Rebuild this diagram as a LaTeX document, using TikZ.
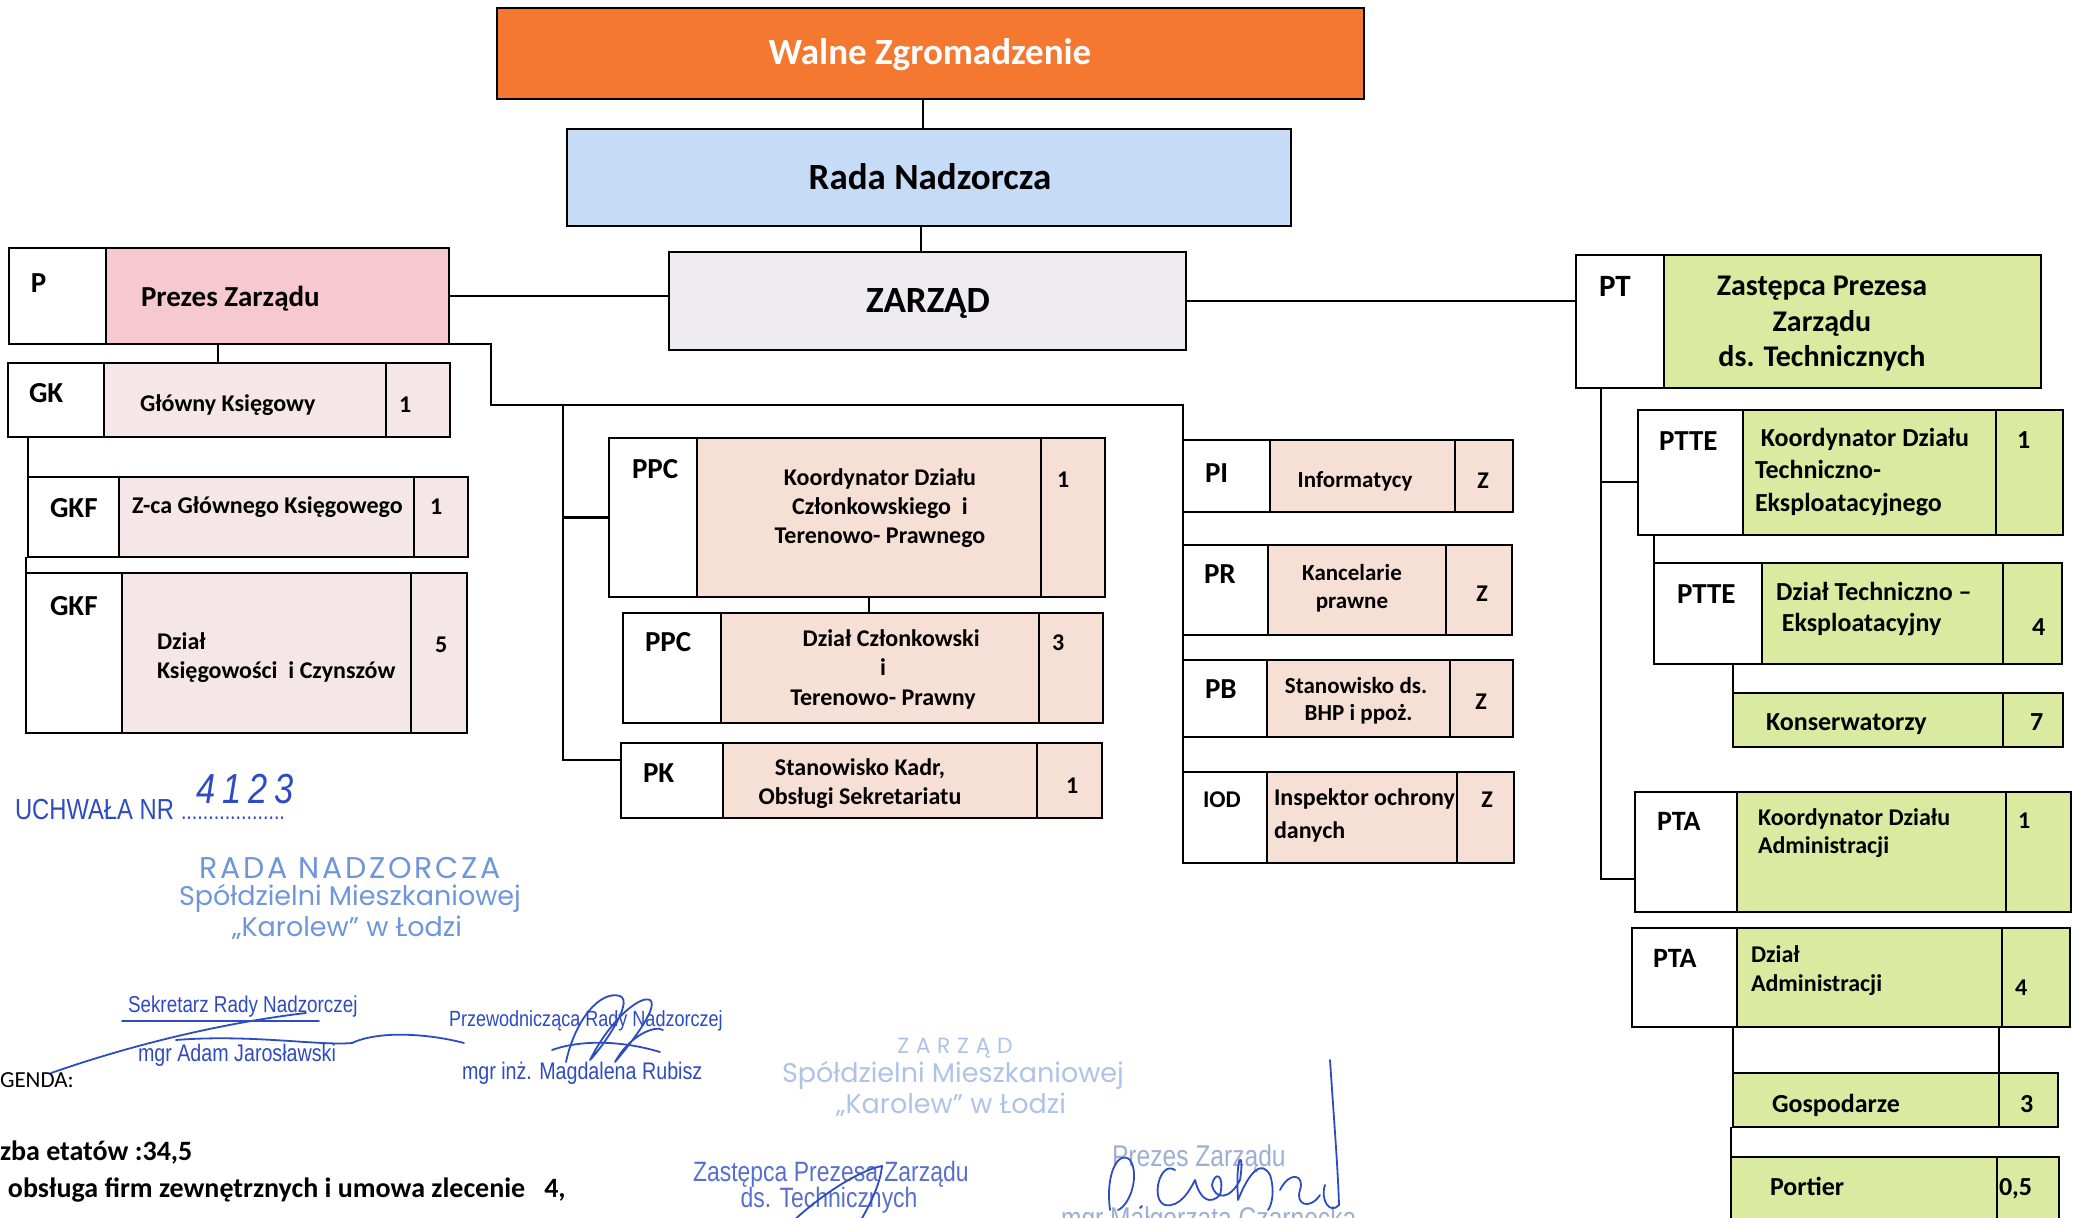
\documentclass[tikz,border=0pt]{standalone}
\usepackage{fontspec}
\setmainfont{Carlito}
\newfontfamily\narrowf[FakeStretch=0.82]{Liberation Sans}
\newfontfamily\stampf{Poppins}
\usetikzlibrary{fit,calc}
\definecolor{cOrange}{RGB}{245,120,48}
\definecolor{cBlue}{RGB}{198,220,246}
\definecolor{cGray}{RGB}{238,236,241}
\definecolor{cPink}{RGB}{246,200,207}
\definecolor{cRose}{RGB}{244,230,233}
\definecolor{cPeach}{RGB}{246,223,212}
\definecolor{cGreen}{RGB}{218,234,160}
\definecolor{cInk}{RGB}{45,75,195}
\definecolor{cStamp}{RGB}{110,150,220}
\definecolor{cFaint}{RGB}{175,195,232}
\newcommand\mkcell[6]{\node[cell,fill=#6,fit={(#2,#3) (#4,#5)}] (#1) {};}
\begin{document}
\begin{tikzpicture}[x=0.5pt,y=-0.5pt,
  every node/.style={inner sep=0pt,outer sep=0pt},
  cell/.style={draw=black,line width=1.45pt,inner sep=0pt,outer sep=0pt},
  conn/.style={draw=black,line width=1.15pt},
  dn/.style={yshift=-2pt},
  big/.style={anchor=mid,yshift=-2.5pt,font=\fontsize{18.5}{22}\selectfont\bfseries},
  code/.style={anchor=mid west,dn,font=\fontsize{14.5}{17}\selectfont\bfseries},
  desc/.style={font=\fontsize{12}{14.5}\selectfont\bfseries},
  descS/.style={desc,anchor=mid west,dn},
  descL/.style={desc,anchor=west,align=left},
  descC/.style={desc,anchor=center,align=center},
  num/.style={anchor=mid west,dn,font=\fontsize{12}{14}\selectfont\bfseries},
  gdesc/.style={anchor=mid west,dn,font=\fontsize{13}{16}\selectfont\bfseries},
  ink/.style={text=cInk,font=\narrowf\fontsize{12}{14}\selectfont,anchor=base west},
  sig/.style={draw=cInk,line width=0.9pt,line cap=round,line join=round},
  stampt/.style={text=cStamp,font=\stampf\fontsize{13.5}{16}\selectfont,anchor=center},
  faint/.style={text=cFaint,font=\stampf\fontsize{13.5}{16}\selectfont,anchor=center},
  legend/.style={anchor=base west,font=\fontsize{14}{16}\selectfont\bfseries}]
\useasboundingbox (0,0) rectangle (2073,1218);
\clip (0,0) rectangle (2073,1218);
\fill[white] (0,0) rectangle (2073,1218);

% ---------- top
\mkcell{W}{497}{8}{1364}{99}{cOrange}
\mkcell{R}{567}{129}{1291}{226}{cBlue}
\mkcell{Z}{669}{252}{1186}{350}{cGray}
\node[big,text=white] (tW) at (930,55) {Walne Zgromadzenie};
\node[big] (tR) at (930,180) {Rada Nadzorcza};
\node[big] (tZ) at (928,303) {ZARZĄD};

% ---------- P
\mkcell{Pc}{9}{248}{106}{344}{white}
\mkcell{Pd}{106}{248}{449}{344}{cPink}
\node[code] (tPc) at (31,284) {P};
\node[code] (tPd) at (141,298) {Prezes Zarządu};

% ---------- PT
\mkcell{PTc}{1576}{255}{1664}{388}{white}
\mkcell{PTd}{1664}{255}{2041}{388}{cGreen}
\node[code,font=\fontsize{15.5}{17}\selectfont\bfseries] (tPTc) at (1599,288) {PT};
\node[anchor=center,align=center,font=\fontsize{15}{17.75}\selectfont\bfseries] (tPTd) at (1822,324) {Zastępca Prezesa\\Zarządu\\ds. Technicznych};

% ---------- GK
\mkcell{GKc}{8}{363}{104}{437}{white}
\mkcell{GKd}{104}{363}{386}{437}{cRose}
\mkcell{GKn}{386}{363}{450}{437}{cRose}
\node[code] (tGKc) at (29,394) {GK};
\node[descS] (tGKd) at (140,403) {Główny Księgowy};
\node[num] (tGKn) at (399,404) {1};

\mkcell{GKFac}{28}{477}{119}{557}{white}
\mkcell{GKFad}{119}{477}{414}{557}{cRose}
\mkcell{GKFan}{414}{477}{468}{557}{cRose}
\node[code] (tGKFac) at (50,509) {GKF};
\node[descS] (tGKFad) at (132,505) {Z-ca Głównego Księgowego};
\node[num] (tGKFan) at (430,506) {1};

\mkcell{GKFbc}{26}{573}{122}{733}{white}
\mkcell{GKFbd}{122}{573}{411}{733}{cRose}
\mkcell{GKFbn}{411}{573}{467}{733}{cRose}
\node[code] (tGKFbc) at (50,607) {GKF};
\node[descL] (tGKFbd) at (157,658) {Dział\\Księgowości\ \ i Czynszów};
\node[num] (tGKFbn) at (435,644) {5};

% ---------- middle
\mkcell{PPCac}{609}{438}{697}{597}{white}
\mkcell{PPCad}{697}{438}{1041}{597}{cPeach}
\mkcell{PPCan}{1041}{438}{1105}{597}{cPeach}
\node[code] (tPPCac) at (632,470) {PPC};
\node[descC] (tPPCad) at (880,508) {Koordynator Działu\\Członkowskiego\ \ i\\Terenowo- Prawnego};
\node[num] (tPPCan) at (1057,479) {1};

\mkcell{PPCbc}{623}{613}{721}{723}{white}
\mkcell{PPCbd}{721}{613}{1039}{723}{cPeach}
\mkcell{PPCbn}{1039}{613}{1103}{723}{cPeach}
\node[code] (tPPCbc) at (645,643) {PPC};
\node[descC,font=\fontsize{12}{14.75}\selectfont\bfseries] (tPPCbd) at (883,669) {\ \ \ Dział Członkowski\\i\\Terenowo- Prawny};
\node[num] (tPPCbn) at (1052,642) {3};

\mkcell{PKc}{621}{743}{723}{818}{white}
\mkcell{PKd}{723}{743}{1037}{818}{cPeach}
\mkcell{PKn}{1037}{743}{1102}{818}{cPeach}
\node[code] (tPKc) at (643,774) {PK};
\node[descC] (tPKd) at (860,784) {Stanowisko Kadr,\\Obsługi Sekretariatu};
\node[num] (tPKn) at (1066,785) {1};

% ---------- PI group
\mkcell{PIc}{1183}{440}{1270}{512}{white}
\mkcell{PId}{1270}{440}{1455}{512}{cPeach}
\mkcell{PIn}{1455}{440}{1513}{512}{cPeach}
\node[code] (tPIc) at (1205,474) {PI};
\node[desc,anchor=mid,dn,font=\fontsize{11.5}{14}\selectfont\bfseries] (tPId) at (1355,479) {Informatycy};
\node[num,anchor=mid] (tPIn) at (1483,480) {Z};

\mkcell{PRc}{1183}{545}{1268}{635}{white}
\mkcell{PRd}{1268}{545}{1446}{635}{cPeach}
\mkcell{PRn}{1446}{545}{1512}{635}{cPeach}
\node[code] (tPRc) at (1204,575) {PR};
\node[descC,font=\fontsize{11.5}{14}\selectfont\bfseries] (tPRd) at (1352,588) {Kancelarie\\prawne};
\node[num,anchor=mid] (tPRn) at (1482,593) {Z};

\mkcell{PBc}{1183}{660}{1267}{737}{white}
\mkcell{PBd}{1267}{660}{1450}{737}{cPeach}
\mkcell{PBn}{1450}{660}{1513}{737}{cPeach}
\node[code] (tPBc) at (1205,690) {PB};
\node[descC,font=\fontsize{11.5}{13.5}\selectfont\bfseries] (tPBd) at (1356,701) {Stanowisko ds.\\\ BHP i ppoż.};
\node[num,anchor=mid] (tPBn) at (1481,701) {Z};

\mkcell{IODc}{1183}{772}{1267}{863}{white}
\mkcell{IODd}{1267}{772}{1457}{863}{cPeach}
\mkcell{IODn}{1457}{772}{1514}{863}{cPeach}
\node[code,font=\fontsize{12}{14}\selectfont\bfseries] (tIODc) at (1203,799) {IOD};
\node[descL,font=\fontsize{12}{16.5}\selectfont\bfseries] (tIODd) at (1274,815) {Inspektor ochrony\\danych};
\node[num,anchor=mid] (tIODn) at (1487,799) {Z};

% ---------- right (green)
\mkcell{PTTEac}{1638}{410}{1743}{535}{white}
\mkcell{PTTEad}{1743}{410}{1996}{535}{cGreen}
\mkcell{PTTEan}{1996}{410}{2063}{535}{cGreen}
\node[code] (tPTTEac) at (1659,442) {PTTE};
\node[descL,font=\fontsize{13}{16.25}\selectfont\bfseries] (tPTTEad) at (1755,472) {\ Koordynator Działu\\Techniczno-\\Eksploatacyjnego};
\node[num,font=\fontsize{13}{15}\selectfont\bfseries] (tPTTEan) at (2017,440) {1};

\mkcell{PTTEbc}{1654}{563}{1762}{664}{white}
\mkcell{PTTEbd}{1762}{563}{2003}{664}{cGreen}
\mkcell{PTTEbn}{2003}{563}{2062}{664}{cGreen}
\node[code] (tPTTEbc) at (1677,595) {PTTE};
\node[descL,font=\fontsize{13}{15.5}\selectfont\bfseries] (tPTTEbd) at (1776,609) {Dział Techniczno –\\\ Eksploatacyjny};
\node[num,font=\fontsize{13}{15}\selectfont\bfseries] (tPTTEbn) at (2032,627) {4};

\mkcell{Konsd}{1733}{693}{2003}{747}{cGreen}
\mkcell{Konsn}{2003}{693}{2063}{747}{cGreen}
\node[gdesc] (tKonsd) at (1766,722) {Konserwatorzy};
\node[num,font=\fontsize{13}{15}\selectfont\bfseries] (tKonsn) at (2030,722) {7};

\mkcell{PTAac}{1635}{792}{1737}{912}{white}
\mkcell{PTAad}{1737}{792}{2006}{912}{cGreen}
\mkcell{PTAan}{2006}{792}{2071}{912}{cGreen}
\node[code,font=\fontsize{14}{16}\selectfont\bfseries] (tPTAac) at (1657,822) {PTA};
\node[descL,font=\fontsize{12}{14}\selectfont\bfseries] (tPTAad) at (1758,833) {Koordynator Działu\\Administracji};
\node[num] (tPTAan) at (2018,820) {1};

\mkcell{PTAbc}{1632}{928}{1737}{1027}{white}
\mkcell{PTAbd}{1737}{928}{2002}{1027}{cGreen}
\mkcell{PTAbn}{2002}{928}{2070}{1027}{cGreen}
\node[code,font=\fontsize{14}{16}\selectfont\bfseries] (tPTAbc) at (1653,959) {PTA};
\node[descL,font=\fontsize{12}{14.5}\selectfont\bfseries] (tPTAbd) at (1751,971) {Dział\\Administracji};
\node[num] (tPTAbn) at (2015,987) {4};

\mkcell{Gospd}{1733}{1073}{1999}{1127}{cGreen}
\mkcell{Gospn}{1999}{1073}{2058}{1127}{cGreen}
\node[gdesc] (tGospd) at (1772,1104) {Gospodarze};
\node[num,font=\fontsize{13}{15}\selectfont\bfseries] (tGospn) at (2020,1104) {3};

\mkcell{Portd}{1731}{1157}{1997}{1240}{cGreen}
\mkcell{Portn}{1997}{1157}{2059}{1240}{cGreen}
\node[gdesc] (tPortd) at (1770,1187) {Portier};
\node[num,font=\fontsize{13}{15}\selectfont\bfseries] (tPortn) at (1999,1187) {0,5};

% ---------- connectors
\draw[conn] (W.south -| 923,0) -- (R.north -| 923,0);
\draw[conn] (R.south -| 921,0) -- (Z.north -| 921,0);
\draw[conn] (Pd.east) -- (Pd.east -| Z.west);
\draw[conn] (Z.east) -- (Z.east -| PTc.west);
\draw[conn] (Pd.south -| 218,0) -- (GKd.north -| 218,0);
\coordinate (jA) at (491,405);
\coordinate (jB) at (1183,405);
\coordinate (jC) at (563,405);
\draw[conn] (Pd.south east) -| (jA) -- (jB) -- (IODc.south west);
\draw[conn] (jC) |- (PKc.west |- 0,760);
\draw[conn] (PPCac.west) -- (PPCac.west -| jC);
\draw[conn] (PPCad.south) -- (PPCad.south |- PPCbd.north);
\draw[conn] (GKFac.north west) -- (GKFac.north west |- GKc.south);
\draw[conn] (GKFbc.north west) -- (GKFbc.north west |- GKFac.south);
\coordinate (rA) at ($(PTc.south west)+(25,0)$);
\coordinate (rB) at ($(PTAac.south west)+(0,-33)$);
\draw[conn] (rA) |- (rB);
\draw[conn] (rA |- 0,482) -- (PTTEac.west |- 0,482);
\draw[conn] (PTTEbc.north west) -- (PTTEbc.north west |- PTTEac.south);
\draw[conn] (Konsd.north west) -- (Konsd.north west |- PTTEbc.south);
\draw[conn] (Gospd.north west) -- (Gospd.north west |- PTAbc.south);
\draw[conn] (Gospn.north west) -- (Gospn.north west |- PTAbc.south);
\draw[conn] (Portd.north west) -- (Portd.north west |- Gospd.south);

% ---------- resolution stamp
\node[ink,font=\narrowf\fontsize{14.5}{16}\selectfont] (uch) at (15,820) {UCHWAŁA NR};
\node[ink,font=\narrowf\fontsize{12}{14}\selectfont,text height=2pt] (dots) at (181,820) {...................};
\node[ink,font=\narrowf\itshape\fontsize{21}{22}\selectfont] (nr) at (196,804) {4\,1\,2\,3};
\node[stampt,font=\stampf\fontsize{15}{17}\selectfont\addfontfeature{LetterSpace=9}] (rn1) at (350,868) {RADA NADZORCZA};
\node[stampt] (rn2) at (350,898) {Spółdzielni Mieszkaniowej};
\node[stampt] (rn3) at (347,928) {„Karolew” w Łodzi};
\node[ink,font=\narrowf\fontsize{11.5}{13}\selectfont] (sek) at (128,1012) {Sekretarz Rady Nadzorczej};
\node[ink] (sekn) at (138,1061) {mgr Adam Jarosławski};
\node[ink,font=\narrowf\fontsize{11}{13}\selectfont] (prz) at (449,1026) {Przewodnicząca Rady Nadzorczej};
\node[ink] (przn) at (462,1079) {mgr inż. Magdalena Rubisz};
% signatures
\draw[sig] (sek.south west) ++(-6,4) -- ++(197,0);
\draw[sig] (51,1073) .. controls (140,1042) and (230,1022) .. (306,1013);
\draw[sig] (176,1040) .. controls (250,1034) and (320,1046) .. (352,1043) .. controls (380,1030) and (430,1034) .. (464,1043);
\draw[sig] (566,1062) .. controls (575,1020) and (600,990) .. (620,996) .. controls (635,1002) and (600,1050) .. (590,1060)
  .. controls (610,1020) and (640,995) .. (650,1000) .. controls (660,1008) and (625,1050) .. (615,1062)
  .. controls (630,1035) and (655,1025) .. (663,1030);
\draw[sig] (552,1050) .. controls (580,1040) and (620,1040) .. (660,1052);

% ---------- board stamp
\node[faint,font=\stampf\fontsize{11}{13}\selectfont\addfontfeature{LetterSpace=30}] (zs1) at (955,1048) {ZARZĄD};
\node[faint] (zs2) at (953,1075) {Spółdzielni Mieszkaniowej};
\node[faint] (zs3) at (951,1105) {„Karolew” w Łodzi};
\node[ink,text=cInk!80,font=\narrowf\fontsize{14}{16}\selectfont] (zp1) at (693,1181) {Zastępca Prezesa Zarządu};
\node[ink,text=cInk!80,font=\narrowf\fontsize{14}{16}\selectfont,anchor=base] (zp2) at (829,1207) {ds. Technicznych};
\draw[sig] (789,1225) .. controls (820,1195) and (860,1170) .. (882,1166) .. controls (880,1185) and (870,1205) .. (858,1225);
\node[ink,text=cFaint!90!black,font=\narrowf\fontsize{15}{17}\selectfont] (pz1) at (1112,1166) {Prezes Zarządu};
\node[ink,text=cFaint!90!black,font=\narrowf\fontsize{15}{17}\selectfont] (pz2) at (1061,1228) {mgr Małgorzata Czarnecka};
\draw[sig] (1110,1210) .. controls (1105,1170) and (1120,1150) .. (1130,1160) .. controls (1140,1175) and (1130,1205) .. (1118,1210);
\draw[sig] (1140,1208) -- (1142,1206);
\draw[sig] (1175,1170) .. controls (1160,1160) and (1150,1200) .. (1165,1205) .. controls (1180,1208) and (1190,1190) .. (1195,1180)
  .. controls (1200,1200) and (1210,1205) .. (1220,1195) .. controls (1225,1175) and (1215,1170) .. (1212,1185)
  .. controls (1215,1200) and (1230,1200) .. (1240,1180) .. controls (1245,1150) and (1235,1150) .. (1238,1200)
  .. controls (1250,1170) and (1262,1160) .. (1270,1175) .. controls (1275,1190) and (1272,1205) .. (1268,1210);
\draw[sig] (1280,1190) .. controls (1290,1170) and (1305,1175) .. (1300,1190) .. controls (1295,1205) and (1310,1210) .. (1320,1195);
\draw[sig] (1330,1060) .. controls (1334,1120) and (1338,1170) .. (1339,1205) .. controls (1330,1215) and (1320,1200) .. (1325,1185);

% ---------- legend
\node[legend,font=\fontsize{11.5}{14}\selectfont] (lg1) at (0,1087) {GENDA:};
\node[legend] (lg2) at (0,1160) {zba etatów :34,5};
\node[legend] (lg3) at (8,1197) {obsługa firm zewnętrznych i umowa zlecenie\ \ \ 4,};
\end{tikzpicture}
\end{document}
